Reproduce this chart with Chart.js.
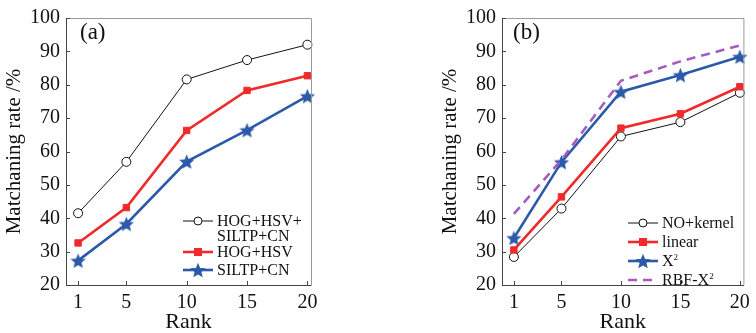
<!DOCTYPE html>
<html><head><meta charset="utf-8">
<script src="https://cdn.jsdelivr.net/npm/chart.js@4.4.1/dist/chart.umd.min.js"></script>
<style>
html,body{margin:0;padding:0;background:#fff;}
#wrap{position:relative;width:756px;height:333px;overflow:hidden;}
.cv{position:absolute;top:0;width:378px;height:333px;}
.leg{position:absolute;font-family:"Liberation Serif",serif;font-size:16px;color:#111;line-height:1;}
.row{position:absolute;display:flex;align-items:center;white-space:nowrap;}
.row svg{flex:none;margin-right:4px;}
.row span{display:block;line-height:15px;}
sup{font-size:9px;vertical-align:6px;line-height:0;}
.tag{position:absolute;font-family:"Liberation Serif",serif;font-size:23px;color:#111;}
</style>
</head><body>
<div id="wrap">
  <div class="cv" style="left:0"><canvas id="ca" width="378" height="333"></canvas></div>
  <div class="cv" style="left:378px"><canvas id="cb" width="378" height="333"></canvas></div>
  <div class="tag" style="left:80px;top:19px">(a)</div>
  <div class="tag" style="left:513px;top:19px">(b)</div>
  <div id="legA"></div>
  <div id="legB"></div>
</div>
<script>
// ---- data ----
const ranks = [1, 5, 10, 15, 20];
const yTicks = [20, 30, 40, 50, 60, 70, 80, 90, 100];
// panel (a)
const a_labels = ["HOG+HSV+\nSILTP+CN", "HOG+HSV", "SILTP+CN"];
const a_all = [41.5, 56.9, 81.6, 87.4, 92.0];
const a_hoghsv = [32.6, 43.2, 66.3, 78.3, 82.7];
const a_siltpcn = [27.3, 38.3, 57.0, 66.4, 76.6];
// panel (b)
const b_labels = ["NO+kernel", "linear", "X²", "RBF-X²"];
const b_nokernel = [28.4, 42.9, 64.5, 68.8, 77.6];
const b_linear = [30.5, 46.4, 67.0, 71.3, 79.4];
const b_x2 = [34.1, 56.8, 77.9, 82.9, 88.4];
const b_rbf = [41.3, 57.5, 81.2, 87.0, 91.8];

// ---- styles ----
const BLACK = '#111111', RED = '#f02a2a', BLUE = '#2b5aa8', PURPLE = '#a45cbf';
const FONT = '"Liberation Serif", serif';

function starCanvas(size, color) {
  const c = document.createElement('canvas');
  c.width = size; c.height = size;
  const g = c.getContext('2d');
  const cx = size / 2, cy = size / 2 + 0.8, R = size / 2 - 0.5, r = R * 0.45;
  g.beginPath();
  for (let i = 0; i < 10; i++) {
    const rad = i % 2 === 0 ? R : r;
    const ang = -Math.PI / 2 + i * Math.PI / 5;
    const x = cx + rad * Math.cos(ang), y = cy + rad * Math.sin(ang);
    i ? g.lineTo(x, y) : g.moveTo(x, y);
  }
  g.closePath();
  g.fillStyle = color; g.fill();
  return c;
}
const STAR = starCanvas(17, BLUE);

function pts(vals) { return ranks.map((r, i) => ({x: r, y: vals[i]})); }

const styles = {
  circle: {borderColor: BLACK, borderWidth: 1, pointStyle: 'circle', pointRadius: 4.5,
           pointBackgroundColor: '#fff', pointBorderColor: BLACK, pointBorderWidth: 1},
  square: {borderColor: RED, borderWidth: 2.6, pointStyle: 'rect', pointRadius: 4.5,
           pointBackgroundColor: RED, pointBorderColor: RED, pointBorderWidth: 1},
  star: {borderColor: BLUE, borderWidth: 2.6, pointStyle: STAR, pointRadius: 8,
         pointBackgroundColor: BLUE, pointBorderColor: BLUE},
  dash: {borderColor: PURPLE, borderWidth: 2.6, borderDash: [9, 6], pointRadius: 0}
};

function ds(label, vals, st) {
  return Object.assign({label: label, data: pts(vals), tension: 0, clip: false, fill: false}, styles[st]);
}

const framePlugin = {
  id: 'frame',
  afterDraw(chart) {
    const {ctx, chartArea: a, scales} = chart;
    ctx.save();
    ctx.lineWidth = 1;
    ctx.strokeStyle = '#9a9a9a';
    ctx.beginPath();
    ctx.moveTo(a.left, a.top + 0.5); ctx.lineTo(a.right + 0.5, a.top + 0.5); ctx.lineTo(a.right + 0.5, a.bottom);
    ctx.stroke();
    ctx.strokeStyle = '#444';
    ctx.beginPath();
    ctx.moveTo(a.left + 0.5, a.top); ctx.lineTo(a.left + 0.5, a.bottom + 0.5); ctx.lineTo(a.right + 0.5, a.bottom + 0.5);
    ctx.stroke();
    ctx.strokeStyle = '#444';
    ctx.beginPath();
    scales.x.ticks.forEach(t => {
      const x = Math.round(scales.x.getPixelForValue(t.value)) + 0.5;
      ctx.moveTo(x, a.bottom); ctx.lineTo(x, a.bottom - 4);
    });
    scales.y.ticks.forEach(t => {
      const y = Math.round(scales.y.getPixelForValue(t.value)) + 0.5;
      ctx.moveTo(a.left, y); ctx.lineTo(a.left + 4, y);
    });
    ctx.stroke();
    ctx.restore();
  }
};

function makeChart(id, datasets, padLeft, padRight, padTop) {
  return new Chart(document.getElementById(id), {
    type: 'line',
    data: {datasets: datasets},
    options: {
      responsive: false, animation: false, devicePixelRatio: 1,
      layout: {padding: {left: padLeft, right: padRight, top: padTop, bottom: 0}},
      plugins: {legend: {display: false}, tooltip: {enabled: false}},
      scales: {
        x: {
          type: 'linear', min: 0, max: 20.3,
          afterBuildTicks: s => { s.ticks = ranks.map(v => ({value: v})); },
          afterFit: s => { s.height = 48; },
          grid: {display: false, drawTicks: false}, border: {display: false},
          ticks: {padding: 6, color: '#111', font: {family: FONT, size: 20}},
          title: {display: true, text: 'Rank', color: '#111', padding: {top: 0, bottom: 0},
                  font: {family: FONT, size: 22, lineHeight: 1}}
        },
        y: {
          type: 'linear', min: 20, max: 100,
          afterBuildTicks: s => { s.ticks = yTicks.map(v => ({value: v})); },
          afterFit: s => { s.width = 66; },
          grid: {display: false, drawTicks: false}, border: {display: false},
          ticks: {padding: 6, color: '#111', font: {family: FONT, size: 20}},
          title: {display: true, text: 'Matchaning rate /%', color: '#111', padding: {top: 4, bottom: 0},
                  font: {family: FONT, size: 21, lineHeight: 1}}
        }
      }
    },
    plugins: [framePlugin]
  });
}

makeChart('ca', [
  ds(a_labels[0], a_all, 'circle'),
  ds(a_labels[1], a_hoghsv, 'square'),
  ds(a_labels[2], a_siltpcn, 'star')
], 0, 67, 15);

makeChart('cb', [
  ds(b_labels[3], b_rbf, 'dash'),
  ds(b_labels[2], b_x2, 'star'),
  ds(b_labels[1], b_linear, 'square'),
  ds(b_labels[0], b_nokernel, 'circle')
], 58, 10, 16);

// ---- legends (HTML) ----
function sample(st) {
  let s = '<svg width="30" height="16" viewBox="0 0 30 16">';
  if (st === 'circle') s += `<line x1="0" y1="8" x2="30" y2="8" stroke="${BLACK}" stroke-width="1"/><circle cx="15" cy="8" r="4" fill="#fff" stroke="${BLACK}" stroke-width="1"/>`;
  if (st === 'square') s += `<line x1="0" y1="8" x2="30" y2="8" stroke="${RED}" stroke-width="2.6"/><rect x="11" y="4" width="8" height="8" fill="${RED}"/>`;
  if (st === 'star') {
    let p = [];
    for (let i = 0; i < 10; i++) { const rad = i % 2 ? 3.6 : 8; const an = -Math.PI/2 + i*Math.PI/5; p.push((15+rad*Math.cos(an)).toFixed(2)+','+(8.8+rad*Math.sin(an)).toFixed(2)); }
    s += `<line x1="0" y1="8" x2="30" y2="8" stroke="${BLUE}" stroke-width="2.6"/><polygon points="${p.join(' ')}" fill="${BLUE}"/>`;
  }
  if (st === 'dash') s += `<line x1="0" y1="8" x2="30" y2="8" stroke="${PURPLE}" stroke-width="2.6" stroke-dasharray="9 6"/>`;
  return s + '</svg>';
}
function fmt(t) { return t.replace(/²/g, '<sup>2</sup>').replace(/\n/g, '<br>'); }
function legend(el, x, rows) {
  const box = document.getElementById(el);
  rows.forEach(r => {
    const d = document.createElement('div');
    d.className = 'row leg';
    d.style.left = x + 'px'; d.style.top = r.top + 'px';
    d.style.alignItems = 'flex-start';
    d.innerHTML = sample(r.st) + '<span>' + fmt(r.label) + '</span>';
    box.appendChild(d);
  });
}
legend('legA', 183, [
  {label: a_labels[0], st: 'circle', top: 213},
  {label: a_labels[1], st: 'square', top: 244},
  {label: a_labels[2], st: 'star', top: 262}
]);
legend('legB', 628, [
  {label: b_labels[0], st: 'circle', top: 215},
  {label: b_labels[1], st: 'square', top: 234},
  {label: b_labels[2], st: 'star', top: 253},
  {label: b_labels[3], st: 'dash', top: 272}
]);
</script>
</body></html>
